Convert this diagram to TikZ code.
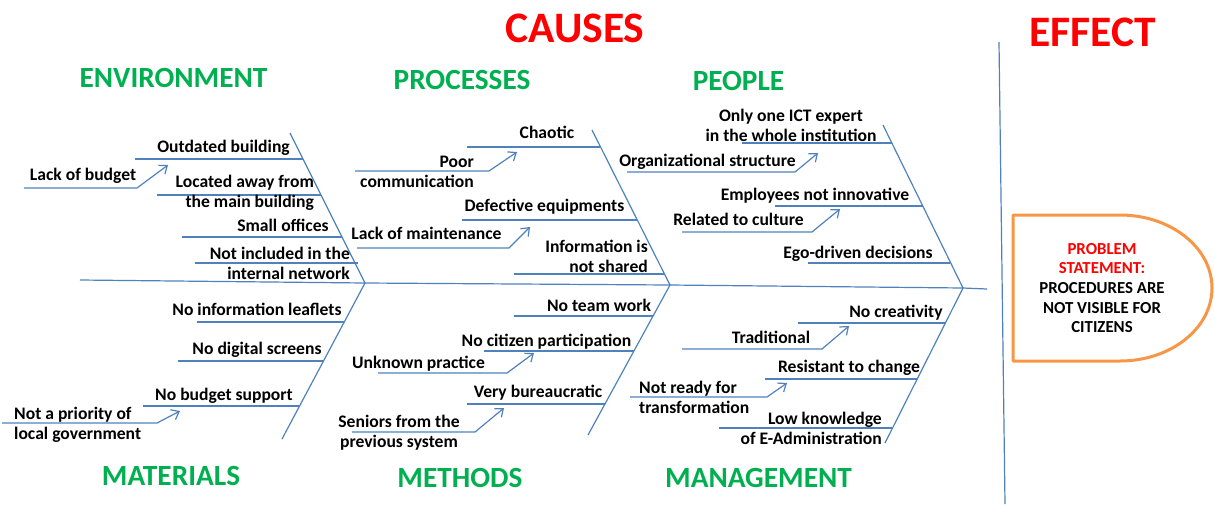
\documentclass[tikz,border=0pt]{standalone}
\usepackage{fontspec}
\setmainfont{Carlito}
\usetikzlibrary{arrows.meta}
\definecolor{bone}{RGB}{79,129,189}
\definecolor{grn}{RGB}{0,176,80}
\definecolor{orng}{RGB}{247,150,70}
\begin{document}
\begin{tikzpicture}[x=1pt,y=-1pt,
  bonel/.style={draw=bone,line width=1.2pt},
  arr/.style={bonel,-{Straight Barb[length=7pt,width=11pt]}},
  lbl/.style={font=\fontsize{17.6}{20}\selectfont\bfseries,inner sep=0pt,text=black},
  head/.style={font=\fontsize{29.3}{32}\selectfont\bfseries,text=grn,inner sep=0pt},
  ttl/.style={font=\fontsize{43.5}{46}\selectfont\bfseries,text=red,inner sep=0pt},
  probtxt/.style={font=\fontsize{16.8}{19.7}\selectfont\bfseries,inner sep=0pt,align=center}
]
\useasboundingbox (0,0) rectangle (1215,504);

% titles
\node[ttl] (causes) at (575,28) {CAUSES};
\node[ttl] (effect) at (1093,32) {EFFECT};
\node[head] (env) at (173.5,78) {ENVIRONMENT};
\node[head] (pro) at (462,80) {PROCESSES};
\node[head] (peo) at (738.5,81) {PEOPLE};
\node[head] (mat) at (171,476) {MATERIALS};
\node[head] (met) at (460,478) {METHODS};
\node[head] (man) at (758.5,478) {MANAGEMENT};

% spine
\coordinate (s0) at (80,280);
\coordinate (j1) at (365,283);
\coordinate (j2) at (670,285);
\coordinate (j3) at (963,288);
\coordinate (s4) at (987,289);
\draw[bonel] (s0) -- (j1) -- (j2) -- (j3) -- (s4);

% main bones
\coordinate (envtop) at (290,133);
\coordinate (protop) at (592,130);
\coordinate (peotop) at (883,125);
\coordinate (matbot) at (282,439);
\coordinate (metbot) at (588,435);
\coordinate (manbot) at (885,443);
\draw[bonel] (envtop) -- (j1) -- (matbot);
\draw[bonel] (protop) -- (j2) -- (metbot);
\draw[bonel] (peotop) -- (j3) -- (manbot);

% plain sub-bones
\foreach \n/\xa/\xb/\yy in {out/135/303/159, loc/157/321/195, smo/182/342/237, nin/195/358/263,
  cha/467/600/147, def/462/637/220, inf/514/664/274,
  ict/742/892/143, emp/775/923/206, ego/808/950/263,
  nil/197/344/322, nds/178/323/361, nbs/143/299/406,
  ntw/514/653/316, ncp/484/634/351, vbu/467/605/404,
  ncr/798/945/323, res/765/917/379, lkn/719/892/428}{
  \coordinate (\n-l) at (\xa,\yy);
  \coordinate (\n-r) at (\xb,\yy);
  \draw[bonel] (\n-l) -- (\n-r);
}

% sub-causes with arrows
\foreach \n/\xa/\xb/\yy/\xt/\yt in {lob/24/137/188/168/165, poo/355/489/171/517/152,
  lom/357/509/248/530/227, org/627/795/172/818/153, rel/682/812/232/840/209,
  npr/2/157/423/180/411, unk/378/507/373/534/353, sen/352/475/432/504/408,
  tra/682/822/349/849/326, nrf/630/767/397/787/383}{
  \coordinate (\n-l) at (\xa,\yy);
  \coordinate (\n-k) at (\xb,\yy);
  \coordinate (\n-t) at (\xt,\yt);
  \draw[arr] (\n-l) -- (\n-k) -- (\n-t);
}

% single-line labels
\node[lbl,anchor=base] (tout) at (223.5,152) {Outdated building};
\node[lbl,anchor=base] (tlob) at (83,180) {Lack of budget};
\node[lbl,anchor=base] (tsmo) at (283,231) {Small offices};
\node[lbl,anchor=base] (tcha) at (547,138) {Chaotic};
\node[lbl,anchor=base] (tdef) at (544.5,211) {Defective equipments};
\node[lbl,anchor=base] (tlom) at (426.5,239) {Lack of maintenance};
\node[lbl,anchor=base] (torg) at (707.5,166) {Organizational structure};
\node[lbl,anchor=base] (temp) at (815,200) {Employees not innovative};
\node[lbl,anchor=base] (trel) at (738.5,225) {Related to culture};
\node[lbl,anchor=base] (tego) at (858,258) {Ego-driven decisions};
\node[lbl,anchor=base] (tnil) at (257,315) {No information leaflets};
\node[lbl,anchor=base] (tnds) at (257,354) {No digital screens};
\node[lbl,anchor=base] (tnbs) at (224,400) {No budget support};
\node[lbl,anchor=base] (tntw) at (599,311) {No team work};
\node[lbl,anchor=base] (tncp) at (546.5,346) {No citizen participation};
\node[lbl,anchor=base] (tunk) at (418.5,368) {Unknown practice};
\node[lbl,anchor=base] (tvbu) at (538,397) {Very bureaucratic};
\node[lbl,anchor=base] (tncr) at (896,317) {No creativity};
\node[lbl,anchor=base] (ttra) at (771,343) {Traditional};
\node[lbl,anchor=base] (tres) at (849,372) {Resistant to change};

% two-line labels
\node[lbl,align=right,anchor=east] (tloc) at (314,193) {Located away from\\the main building};
\node[lbl,align=right,anchor=east] (tnin) at (350,263.5) {Not included in the\\internal network};
\node[lbl,align=right,anchor=east] (tpoo) at (474,171.5) {Poor\\communication};
\node[lbl,align=right,anchor=east] (tinf) at (648,256.5) {Information is\\not shared};
\node[lbl,align=center,anchor=center] (tict) at (791,125) {Only one ICT expert\\in the whole institution};
\node[lbl,align=left,anchor=west] (tnpr) at (14,424.5) {Not a priority of\\local government};
\node[lbl,align=center,anchor=center] (tsen) at (399,432.5) {Seniors from the\\previous system};
\node[lbl,align=left,anchor=west] (tnrf) at (639,397.5) {Not ready for\\transformation};
\node[lbl,align=right,anchor=east] (tlkn) at (882,428.5) {Low knowledge\\of E-Administration};

% divider
\coordinate (dtop) at (999,42);
\coordinate (dbot) at (1005,504);
\draw[bonel] (dtop) -- (dbot);

% problem statement
\coordinate (pa) at (1120,215);
\coordinate (pb) at (1013,215);
\coordinate (pc) at (1013,361);
\coordinate (pd) at (1120,361);
\draw[orng,line width=3pt,line join=round] (pa) -- (pb) -- (pc) -- (pd)
  arc[start angle=-90,end angle=90,x radius=92pt,y radius=73pt] -- cycle;
\node[probtxt] (prob) at (1102,288) {\textcolor{red}{PROBLEM}\\\textcolor{red}{STATEMENT:}\\PROCEDURES ARE\\NOT VISIBLE FOR\\CITIZENS};
\end{tikzpicture}
\end{document}
